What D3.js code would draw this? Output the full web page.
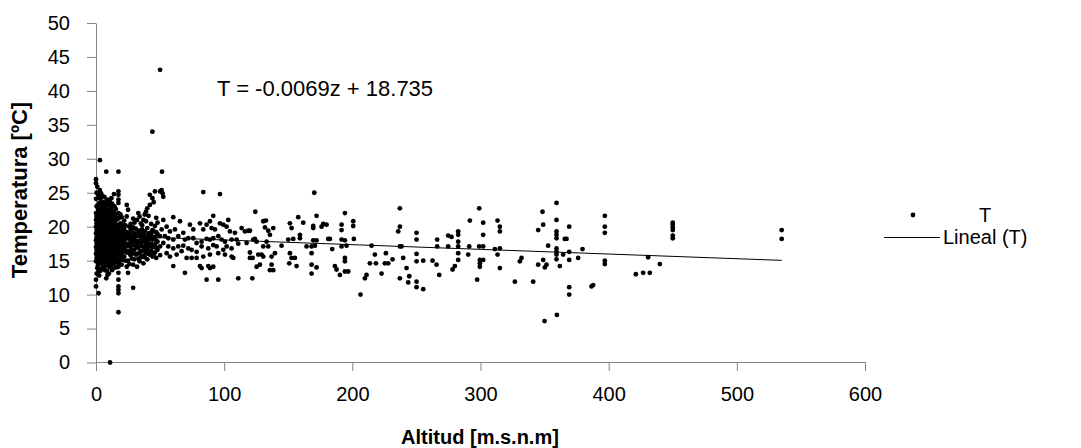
<!DOCTYPE html>
<html>
<head>
<meta charset="utf-8">
<script src="https://cdn.jsdelivr.net/npm/d3@7"></script>
<style>
  body { margin: 0; background: #fff; }
  text { font-family: "Liberation Sans", Arial, sans-serif; fill: #000; }
</style>
</head>
<body>
<div id="chart"></div>
<script>
// stations near the coast, grouped by altitude: [altitude, [temperatures]]
var columnasCosta = [
  [0, [11.2, 12.2, 14.9, 16.0, 17.0, 18.0, 19.0, 20.0, 21.0, 22.0, 24.1, 26.4, 27.0]],
  [0.5, [13.1, 15.4, 16.5, 17.5, 18.4, 19.5, 20.5, 21.5, 23.0, 25.0]],
  [1, [13.9, 15.5, 16.8, 17.6, 18.5, 19.4, 20.6, 21.7, 23.1, 25.9]],
  [1.5, [14.3, 16.2, 17.1, 18.0, 19.0, 20.1, 21.2, 22.6, 24.8]],
  [2, [10.2, 13.4, 14.6, 15.9, 17.2, 18.1, 18.9, 19.8, 20.9, 22.3, 24.3]],
  [2.5, [12.8, 15.2, 16.6, 17.6, 18.5, 19.3, 20.4, 21.6, 23.5]],
  [3, [14.6, 15.3, 16.4, 17.5, 18.6, 19.5, 20.3, 21.2, 25.4, 29.8]],
  [3.5, [13.5, 15.8, 16.9, 18.1, 19.0, 19.9, 20.9, 22.5, 24.1]],
  [4, [13.8, 15.1, 16.1, 17.0, 17.9, 18.8, 19.7, 20.8, 22.0, 23.4, 24.9]],
  [4.5, [14.6, 15.6, 16.6, 17.4, 18.4, 19.2, 20.3, 21.4, 23.0]],
  [5, [14.4, 15.6, 16.6, 17.3, 18.2, 19.1, 20.1, 21.4, 22.6, 24.5]],
  [5.5, [13.9, 15.1, 16.1, 17.8, 18.7, 19.6, 20.7, 22.0, 23.6]],
  [6, [14.2, 15.2, 16.3, 17.4, 18.4, 19.3, 20.4, 21.1, 21.9, 23.0]],
  [6.5, [14.8, 15.7, 16.8, 17.9, 18.9, 19.9, 20.9, 22.4, 24.4]],
  [7, [13.6, 14.9, 15.8, 16.9, 17.7, 18.6, 19.6, 20.7, 22.2, 23.7]],
  [7.5, [14.3, 15.4, 16.4, 17.3, 18.2, 19.1, 20.2, 21.4, 23.2]],
  [8, [12.4, 14.7, 15.9, 16.7, 17.5, 18.3, 19.2, 20.2, 21.3, 22.7, 28.1]],
  [8.5, [13.5, 15.3, 16.3, 17.1, 17.9, 18.8, 19.7, 20.7, 21.9]],
  [9, [12.9, 15.4, 16.2, 17.1, 18.0, 18.9, 19.9, 20.9, 22.4, 24.0]],
  [9.5, [14.2, 15.8, 16.7, 17.6, 18.5, 19.4, 20.4, 21.5, 23.5]],
  [10, [13.1, 15.0, 16.5, 17.8, 18.7, 19.5, 20.5, 21.6, 23.2]],
  [10.5, [14.4, 15.7, 17.2, 18.2, 19.1, 20.0, 21.0, 22.3]],
  [11, [0.0, 14.0, 15.7, 17.0, 18.1, 19.0, 20.0, 21.0, 22.1, 23.6]],
  [11.5, [14.8, 16.3, 17.5, 18.5, 19.5, 20.5, 21.6, 22.8]],
  [12, [14.3, 15.5, 16.8, 17.9, 18.8, 19.8, 21.2, 22.5, 24.2]],
  [12.5, [13.6, 14.9, 16.1, 17.3, 18.3, 19.3, 20.6, 21.8, 23.4]],
  [13, [13.8, 15.3, 16.4, 17.6, 18.5, 19.4, 20.3, 21.5, 23.0]],
  [13.5, [14.5, 15.8, 16.9, 18.0, 18.9, 19.9, 20.9, 22.2]],
  [14, [14.6, 16.0, 17.2, 18.3, 19.2, 20.6, 22.0, 24.8]],
  [14.5, [15.3, 16.6, 17.7, 18.7, 19.7, 21.3, 23.0]],
  [15, [15.1, 16.3, 17.4, 18.4, 19.6, 20.8, 21.8]],
  [15.5, [14.0, 15.7, 17.0, 18.1, 19.2, 20.2, 21.4, 22.6]],
  [16, [14.8, 16.6, 17.7, 18.9, 19.9, 21.1]],
  [17.5, [7.4, 10.2, 10.7, 11.2, 12.2, 13.2, 14.1, 14.6, 15.1, 15.8, 16.5, 17.3, 18.0, 18.7, 19.5, 20.3, 21.2, 22.0, 23.5, 24.0, 24.7, 25.2, 28.1]],
  [18, [14.9, 16.2, 17.0, 18.2, 19.0, 20.0, 21.3]],
  [19, [15.4, 16.7, 17.6, 18.5, 19.3, 20.5, 21.8]],
  [20, [14.4, 16.0, 17.0, 18.2, 19.0, 20.0, 21.4]],
  [21, [15.1, 16.4, 17.4, 18.0, 19.4, 20.3]],
  [22, [15.6, 16.8, 17.8, 18.6, 19.7, 20.9]],
  [23, [15.0, 16.3, 17.3, 18.2, 19.1, 20.2]],
  [24, [14.1, 16.2, 17.1, 18.3, 19.2, 21.5, 23.2]],
  [25, [13.2, 15.0, 16.4, 17.5, 18.8, 22.5]],
  [26, [14.5, 16.1, 17.3, 18.3, 19.1, 20.0]],
  [27, [15.8, 17.0, 18.0, 19.5, 20.4]],
  [28, [15.3, 16.5, 17.6, 18.6, 19.3]],
  [29, [11.0, 14.4, 16.1, 17.3, 18.4, 19.9, 21.2]],
  [30, [15.2, 16.6, 18.1, 19.0, 20.6]],
  [31, [15.9, 17.1, 17.9, 18.9, 19.7]],
  [32, [14.1, 16.0, 17.4, 18.6, 21.0]],
  [33, [15.3, 16.9, 17.9, 19.4, 22.0]],
  [34, [14.9, 16.2, 17.6, 18.8, 21.5]],
  [35, [15.5, 16.4, 17.5, 18.5, 19.4, 20.5]],
  [36, [15.7, 17.1, 18.2, 19.6, 20.2]],
  [37, [14.6, 16.4, 17.8, 18.9, 21.0]],
  [38, [15.5, 16.8, 18.4, 19.3, 21.8]],
  [39, [16.1, 17.3, 18.0, 20.8, 22.2]],
  [40, [15.2, 16.6, 17.7, 18.6, 19.8, 22.7]],
  [41, [16.0, 17.0, 18.1, 19.0, 21.6]],
  [42, [15.9, 17.2, 18.3, 19.1, 23.2, 24.7]],
  [43, [16.4, 17.5, 18.8, 20.4]],
  [44, [15.6, 17.0, 18.1, 19.5, 24.2, 34.0]],
  [45, [15.9, 17.0, 18.3, 19.3, 23.6]],
  [46, [16.2, 17.4, 18.5, 20.1, 25.2]],
  [47, [15.4, 16.9, 18.0, 19.2, 21.3]],
  [48, [16.6, 17.8, 18.9, 20.6]],
  [50, [15.8, 17.1, 25.2, 43.1]],
  [51.5, [28.1]]
];

// stations between ~50 and 160 m: [altitude, temperature]
var puntosMedios = [
  [51.2, 25.4], [52, 24.9], [52.5, 24.4], [52.5, 21.0], [60.3, 21.4], [65.5, 20.8], [55.1, 20.0],
  [51.2, 19.6], [57.7, 19.3], [61.6, 19.6], [49.9, 18.6], [53.8, 18.6], [56.4, 18.3], [60.3, 18.1],
  [64.2, 18.6], [68.1, 19.1], [73.3, 20.3], [75.9, 19.6], [81.1, 20.5], [83.7, 19.6], [86.3, 20.3],
  [88.9, 20.8], [91.5, 21.6], [90.2, 19.8], [92.8, 19.6], [96.7, 20.5], [99.3, 20.3], [103.2, 21.0],
  [101.9, 20.0], [104.5, 19.3], [108.4, 19.1], [113.6, 19.8], [116.2, 19.3], [118.8, 19.4], [69.4, 18.1],
  [72, 18.3], [75.9, 18.3], [78.5, 17.6], [82.4, 17.8], [86.3, 18.2], [88.9, 18.1], [91.5, 18.3],
  [95.4, 18.6], [98, 18.1], [100.6, 17.8], [105.8, 18.1], [109.7, 18.1], [52.5, 17.6], [56.4, 17.1],
  [60.3, 16.8], [64.2, 17.1], [68.1, 17.2], [72, 16.8], [74.6, 16.6], [78.5, 16.3], [82.4, 17.1],
  [87.6, 16.8], [91.5, 17.3], [94.1, 17.1], [99.3, 16.6], [101.9, 17.1], [105.8, 16.8], [111, 17.5],
  [117.5, 17.6], [55.1, 16.1], [57.7, 15.6], [62.9, 15.9], [66.8, 16.4], [70.7, 15.4], [74.6, 15.4],
  [78.5, 15.4], [83.7, 15.6], [88.9, 15.9], [95.4, 16.1], [100.6, 15.9], [105.8, 15.6], [107.1, 15.4],
  [120.1, 15.4], [60.3, 14.2], [69.4, 13.2], [81.1, 14.2], [82.4, 13.9], [87.6, 14.2], [88.9, 13.9],
  [91.5, 14.1], [86.3, 12.2], [95.4, 12.2], [111, 12.4], [122, 12.4], [83.7, 25.1], [96.7, 24.8],
  [124.3, 22.2], [120.1, 19.4], [124, 18.2], [125.3, 17.8], [122.7, 18.1], [120.1, 16.2], [122.2, 15.4],
  [126.6, 15.9], [129.2, 15.9], [130.5, 15.6], [125.3, 14.1], [127.9, 14.4], [130.5, 20.8], [132.6, 20.9],
  [131.8, 19.9], [134.4, 19.4], [135.7, 18.8], [138.3, 19.8], [133.1, 17.8], [134.4, 17.1], [130.5, 17.1],
  [137, 15.6], [137, 14.4], [138.3, 13.6], [135.7, 13.6], [139.6, 16.1], [144.8, 17.2], [150, 18.1],
  [151.3, 20.5], [152.6, 19.8], [153.9, 18.2], [151.3, 16.1], [152.6, 15.4], [150.8, 14.6], [155.2, 15.4],
  [156.5, 14.2], [157.8, 21.4]
];

// stations above ~160 m: [altitude, temperature]
var puntosAltos = [
  [161.7, 20.6], [159.1, 18.8], [159.1, 18.3], [164.3, 17.1], [168.2, 17.1], [168.2, 16.1], [168.2, 14.4],
  [168.2, 13.1], [172.1, 14.0], [169.5, 19.8], [169.5, 20.1], [172.1, 21.6], [169.5, 18.0], [170.8, 17.2],
  [172.1, 18.0], [170.3, 25.0], [176, 20.0], [177.3, 20.4], [179.9, 20.3], [181.2, 18.2], [182.5, 18.2],
  [184.3, 16.7], [186.4, 14.2], [187.7, 13.7], [190.3, 12.9], [191.6, 17.1], [191.6, 18.1], [191.6, 20.3],
  [191.6, 19.5], [194.2, 22.0], [194.2, 18.0], [194.2, 15.4], [194.2, 14.9], [194.2, 13.4], [195.5, 17.2],
  [196.8, 13.4], [200.7, 20.8], [200.7, 20.1], [201.2, 18.2], [206.4, 10.0], [209.8, 12.4], [211.1, 12.9],
  [213.7, 14.6], [215, 17.2], [217.6, 15.9], [218.4, 14.6], [222.8, 13.1], [225.4, 14.6], [226.2, 16.1],
  [228, 14.6], [231.4, 15.2], [235.8, 19.3], [237.1, 22.7], [237.1, 20.0], [237.1, 17.1], [238.4, 17.1],
  [237.1, 12.4], [239.7, 15.4], [242.3, 13.9], [244.4, 12.7], [243.6, 11.8], [250.1, 19.1], [250.1, 18.1],
  [250.1, 16.0], [250.1, 14.9], [250.1, 11.9], [250.1, 11.1], [255.3, 15.0], [255.3, 10.8], [262.6, 15.0],
  [265.7, 14.4], [266.2, 18.1], [266.2, 17.1], [267.8, 12.9], [274.8, 17.1], [274.8, 18.7], [277.4, 18.5],
  [278.2, 13.7], [280, 14.2], [282.6, 19.3], [282.6, 18.8], [282.6, 17.8], [282.6, 17.1], [282.6, 16.1],
  [282.6, 15.1], [290.4, 15.9], [291.2, 17.1], [291.7, 20.9], [297.4, 12.2], [299, 22.7], [299, 17.1],
  [299.5, 15.1], [299.5, 14.6], [299.5, 14.1], [302.1, 20.6], [302.1, 18.8], [302.1, 17.1], [302.1, 15.1],
  [311.2, 16.7], [313.3, 20.9], [315.1, 20.0], [315.1, 19.3], [315.1, 16.8], [315.1, 13.9], [313.3, 15.9],
  [326.8, 11.9], [330.7, 14.9], [332, 15.4], [341.1, 11.9], [345, 19.5], [345, 14.4], [348.4, 22.2],
  [348.9, 20.3], [348.9, 15.1], [350.2, 14.0], [352.8, 17.2], [351.5, 14.4], [350, 6.1], [359.6, 7.0],
  [359.3, 23.5], [359.3, 21.0], [359.3, 19.3], [359.3, 18.8], [359.3, 18.3], [359.3, 16.8], [359.3, 16.3],
  [359.3, 15.9], [361.9, 14.2], [359.3, 15.2], [365.8, 18.2], [367.1, 18.2], [369.2, 20.0], [369.2, 16.3],
  [369.2, 15.1], [369.2, 11.1], [369.2, 10.0], [376.2, 15.4], [379.6, 16.7], [386.6, 11.2], [387.9, 11.4],
  [364.5, 15.9], [397, 21.6], [397, 20.0], [397, 19.1], [397, 15.0], [397, 14.5], [421.2, 13.0],
  [426.9, 13.2], [432.1, 13.2], [430.8, 15.5], [439.9, 14.5], [450, 20.6], [450, 20.3], [450, 19.9],
  [450, 19.5], [450, 18.7], [450, 18.3], [535, 19.5], [535, 18.2]
];

// linear trend shown on the chart
var pendiente = -0.0069;
var intercepto = 18.735;
var tramoTendencia = [0, 535];

var xTicks = [0, 100, 200, 300, 400, 500, 600];
var yTicks = [0, 5, 10, 15, 20, 25, 30, 35, 40, 45, 50];

var svgWidth = 1081;
var svgHeight = 448;

var puntos = [];
columnasCosta.forEach(function(c) {
  c[1].forEach(function(t) { puntos.push({ z: c[0], t: t }); });
});
puntosMedios.concat(puntosAltos).forEach(function(p) {
  puntos.push({ z: p[0], t: p[1] });
});

var svg = d3.select("#chart")
  .append("svg")
  .attr("width", svgWidth)
  .attr("height", svgHeight);

var x = d3.scaleLinear().domain([0, 600]).range([96, 865]);
var y = d3.scaleLinear().domain([0, 50]).range([362.5, 23]);

var axisColor = "#868686";

var yAxis = svg.append("g")
  .attr("transform", "translate(96,0)")
  .call(d3.axisLeft(y).tickValues(yTicks).tickSize(9).tickSizeOuter(0).tickPadding(17));

var xAxis = svg.append("g")
  .attr("transform", "translate(0,362)")
  .call(d3.axisBottom(x).tickValues(xTicks).tickSize(9).tickSizeOuter(0).tickPadding(16));

[xAxis, yAxis].forEach(function(a) {
  a.selectAll("path, line").attr("stroke", axisColor);
  a.selectAll("text")
    .style("font-family", "'Liberation Sans', Arial, sans-serif")
    .style("font-size", "20px")
    .attr("fill", "#000");
});

// trend line
svg.append("line")
  .attr("x1", x(tramoTendencia[0]))
  .attr("y1", y(intercepto + pendiente * tramoTendencia[0]))
  .attr("x2", x(tramoTendencia[1]))
  .attr("y2", y(intercepto + pendiente * tramoTendencia[1]))
  .attr("stroke", "#000")
  .attr("stroke-width", 1);

svg.append("g")
  .selectAll("circle")
  .data(puntos)
  .enter()
  .append("circle")
  .attr("cx", d => x(d.z))
  .attr("cy", d => y(d.t))
  .attr("r", 2.4)
  .attr("fill", "#000");

svg.append("text")
  .attr("x", 217)
  .attr("y", 96)
  .style("font-size", "22px")
  .text("T = -0.0069z + 18.735");

// axis titles
svg.append("text")
  .attr("transform", "translate(27,190) rotate(-90)")
  .attr("text-anchor", "middle")
  .style("font-size", "22px")
  .style("font-weight", "bold")
  .text("Temperatura [ºC]");

svg.append("text")
  .attr("x", 480)
  .attr("y", 444)
  .attr("text-anchor", "middle")
  .style("font-size", "20px")
  .style("font-weight", "bold")
  .text("Altitud [m.s.n.m]");

// legend
svg.append("circle")
  .attr("cx", 913)
  .attr("cy", 215)
  .attr("r", 2.4)
  .attr("fill", "#000");

svg.append("text")
  .attr("x", 979)
  .attr("y", 222)
  .style("font-size", "20px")
  .text("T");

svg.append("line")
  .attr("x1", 884).attr("x2", 940)
  .attr("y1", 237.5).attr("y2", 237.5)
  .attr("stroke", "#000")
  .attr("stroke-width", 1);

svg.append("text")
  .attr("x", 943)
  .attr("y", 244)
  .style("font-size", "20px")
  .text("Lineal (T)");
</script>
</body>
</html>
